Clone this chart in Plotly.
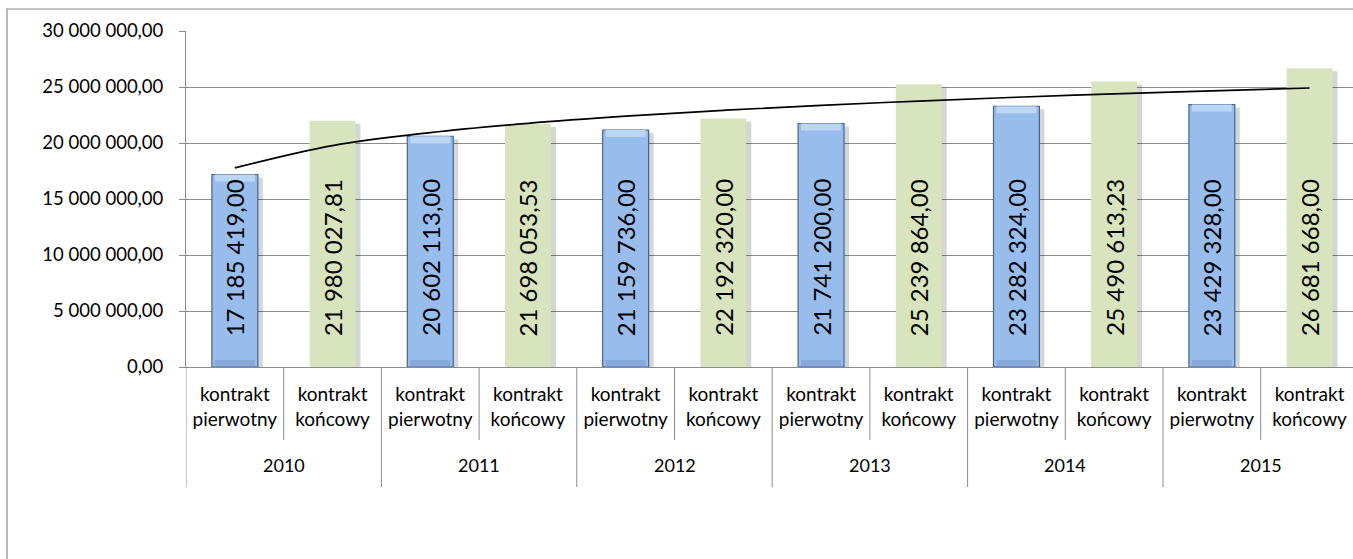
import numpy as np
import plotly.graph_objects as go

# --- data -------------------------------------------------------------
years = ["2010", "2011", "2012", "2013", "2014", "2015"]
contract_types = ["kontrakt<br>pierwotny", "kontrakt<br>końcowy"]
pierwotny = [17185419.00, 20602113.00, 21159736.00, 21741200.00, 23282324.00, 23429328.00]
koncowy = [21980027.81, 21698053.53, 22192320.00, 25239864.00, 25490613.23, 26681668.00]

# --- layout helpers ---------------------------------------------------
W, H = 1353, 559
L, T, B = 186, 31, 192            # plot area margins (px)
PLOT_W, PLOT_H = W - L, H - T - B
CAT_PX = 97.7                      # width of one category slot (px)
BAR_W = 0.47
FONT = "Lato"
GRID = "#8c8c8c"
Y_MAX = 30e6
PX_VAL = Y_MAX / PLOT_H            # value units per pixel


def fmt_pl(v):
    s = f"{v:,.2f}"
    return s.replace(",", "\u00a0").replace(".", ",")


def py(px_y):
    """pixel row -> paper y"""
    return (H - B - px_y) / PLOT_H


def px_x(px):
    return (px - L) / PLOT_W


n = len(years)
x_p = [2 * i for i in range(n)]
x_k = [2 * i + 1 for i in range(n)]

fig = go.Figure()

# soft drop shadows behind the columns
shadow_dx = 5 / CAT_PX
for xs, vals in ((x_p, pierwotny), (x_k, koncowy)):
    fig.add_trace(go.Bar(
        x=xs, y=[v - 3 * PX_VAL for v in vals], width=BAR_W,
        offset=-BAR_W / 2 + shadow_dx,
        marker=dict(color="rgba(0,0,0,0.16)", line=dict(width=0)),
        hoverinfo="skip", showlegend=False))

fig.add_trace(go.Bar(
    x=x_p, y=pierwotny, width=BAR_W, offset=-BAR_W / 2,
    marker=dict(color="#98BDEC", line=dict(color="#46648F", width=1.2)),
    name="kontrakt pierwotny", showlegend=False))

# bevel highlights on the blue columns (light top edge, darker foot)
inner_w = BAR_W - 6 / CAT_PX
fig.add_trace(go.Bar(
    x=x_p, y=[7 * PX_VAL] * n, base=[v - 7 * PX_VAL for v in pierwotny],
    width=inner_w, offset=-inner_w / 2,
    marker=dict(color="#BCD6F6", line=dict(width=0)),
    hoverinfo="skip", showlegend=False))
fig.add_trace(go.Bar(
    x=x_p, y=[6 * PX_VAL] * n, base=[PX_VAL] * n,
    width=inner_w, offset=-inner_w / 2,
    marker=dict(color="#86AADB", line=dict(width=0)),
    hoverinfo="skip", showlegend=False))

fig.add_trace(go.Bar(
    x=x_k, y=koncowy, width=BAR_W, offset=-BAR_W / 2,
    marker=dict(color="#D7E4BD", line=dict(width=0)),
    name="kontrakt końcowy", showlegend=False))

# logarithmic trend line fitted over all twelve columns
all_x = []
all_v = []
for i in range(n):
    all_x += [x_p[i], x_k[i]]
    all_v += [pierwotny[i], koncowy[i]]
order = np.argsort(all_x)
xs_sorted = np.array(all_x)[order]
vs_sorted = np.array(all_v)[order]
lnx = np.log(xs_sorted + 1)
b, a = np.polyfit(lnx, vs_sorted, 1)
trend = a + b * lnx
fig.add_trace(go.Scatter(
    x=xs_sorted, y=trend, mode="lines", line=dict(color="black", width=1.7, shape="spline"),
    hoverinfo="skip", showlegend=False))

# rotated value labels inside the columns
label_base = 29 * PX_VAL
annotations = []
for xs, vals in ((x_p, pierwotny), (x_k, koncowy)):
    for x, v in zip(xs, vals):
        annotations.append(dict(
            x=x, y=label_base, xref="x", yref="y", text=fmt_pl(v), textangle=-90,
            showarrow=False, xanchor="center", yanchor="bottom",
            font=dict(family=FONT, size=24, color="black")))

# year labels on the outer category level
for i, yr in enumerate(years):
    annotations.append(dict(
        x=2 * i + 0.5, y=py(465), xref="x", yref="paper", text=yr, showarrow=False,
        xanchor="center", yanchor="middle", font=dict(family=FONT, size=18, color="black")))

shapes = []
# dividers between the two contract columns inside a year
for i in range(n):
    shapes.append(dict(type="line", xref="x", yref="paper", x0=2 * i + 0.5, x1=2 * i + 0.5,
                       y0=0, y1=py(440), line=dict(color=GRID, width=1)))
# dividers between years
for i in range(n + 1):
    shapes.append(dict(type="line", xref="x", yref="paper", x0=2 * i - 0.5, x1=2 * i - 0.5,
                       y0=0, y1=py(487), line=dict(color=GRID, width=1)))
# chart frame
shapes.append(dict(type="rect", xref="paper", yref="paper",
                   x0=px_x(7), x1=px_x(W + 20), y0=py(H + 20), y1=py(9),
                   line=dict(color="#8a8a8a", width=1.2), fillcolor="rgba(0,0,0,0)", layer="below"))

x_max = -0.5 + PLOT_W / CAT_PX
fig.update_layout(
    width=W, height=H, autosize=False,
    margin=dict(l=L, r=0, t=T, b=B, pad=0),
    plot_bgcolor="white", paper_bgcolor="white",
    separators=", ",
    barmode="overlay",
    font=dict(family=FONT, color="black"),
    annotations=annotations, shapes=shapes,
    xaxis=dict(range=[-0.5, x_max], tickvals=list(range(2 * n)),
               ticktext=contract_types * n, ticks="", showgrid=False, zeroline=False,
               showline=True, linecolor=GRID, linewidth=1,
               tickfont=dict(family=FONT, size=19, color="black"), ticklabelstandoff=10),
    yaxis=dict(range=[0, Y_MAX], dtick=5e6, tick0=0, tickformat=",.2f",
               showgrid=True, gridcolor=GRID, gridwidth=1, zeroline=False,
               showline=True, linecolor=GRID, linewidth=1,
               ticks="outside", ticklen=6, tickcolor=GRID,
               tickfont=dict(family=FONT, size=18.5, color="black"), ticklabelstandoff=12),
)

fig.write_html("out.html")
